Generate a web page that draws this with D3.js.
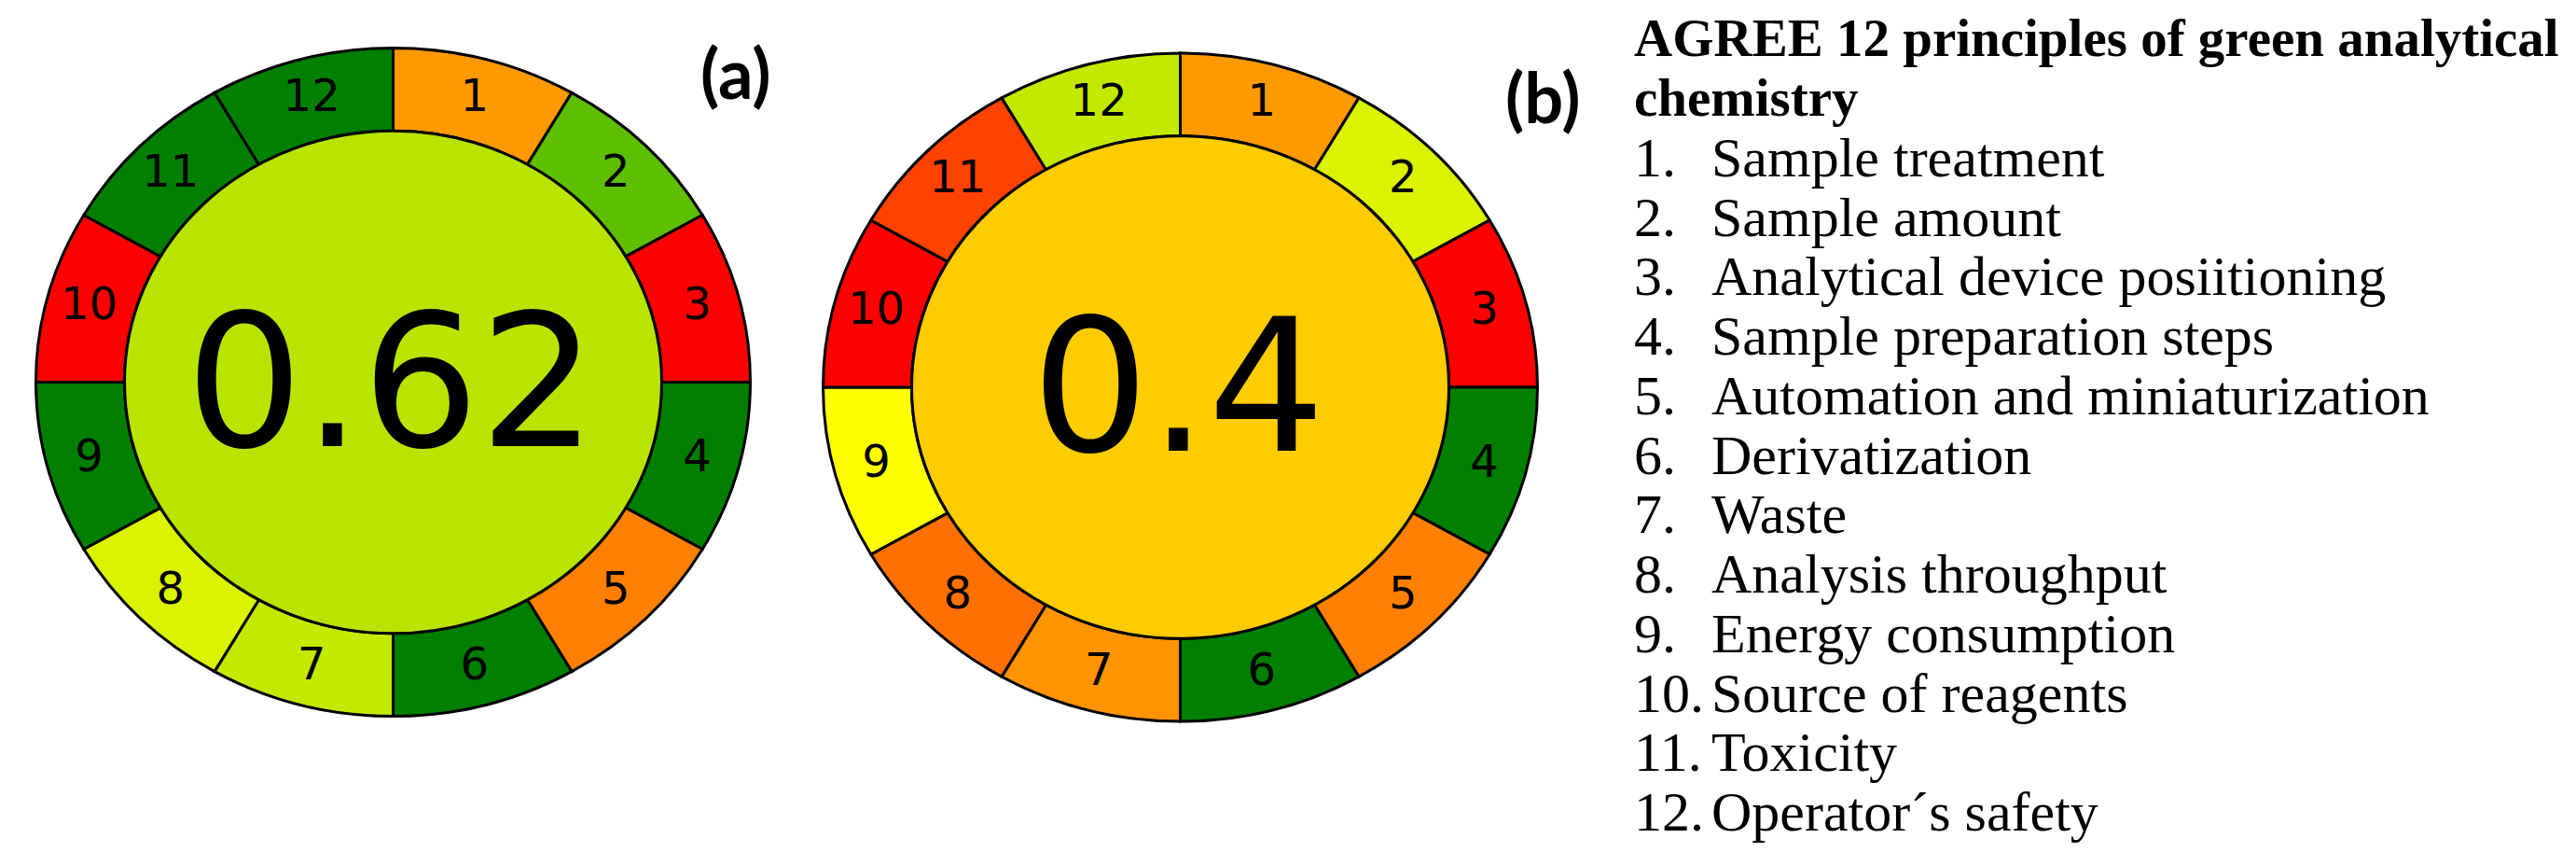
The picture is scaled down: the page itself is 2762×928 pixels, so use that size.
<!DOCTYPE html>
<html>
    <head>
        <meta charset="utf-8">
        <title>AGREE pictograms</title>
        <script src="https://d3js.org/d3.v7.min.js"></script>
        <style>
            body { margin: 0; background: #fff; }
        </style>
    </head>
    <body>
        <div id="container"></div>

        <script>
            // principle names (legend)
            const principles = [
                'Sample treatment',
                'Sample amount',
                'Analytical device posiitioning',
                'Sample preparation steps',
                'Automation and miniaturization',
                'Derivatization',
                'Waste',
                'Analysis throughput',
                'Energy consumption',
                'Source of reagents',
                'Toxicity',
                'Operator\u00b4s safety'
            ]
            const titleLines = ['AGREE 12 principles of green analytical', 'chemistry']

            // scores per principle
            const scoresA = [0.30, 0.78, 0, 1, 0.25, 1, 0.60, 0.56, 1, 0, 1, 1]
            const scoresB = [0.30, 0.56, 0, 1, 0.25, 1, 0.29, 0.22, 0.50, 0, 0.13, 0.60]
            const panelLabels = ['(a)', '(b)']
            const totals = [0.62, 0.4]

            const W = 2762, H = 928
            const container = d3.select('#container')
            const svg = container.append('svg')
                .attr('width', W)
                .attr('height', H)

            // AGREE colour map: red -> yellow -> green
            const color = d3.scaleLinear()
                .domain([0, 0.5, 0.75, 1])
                .range(['#ff0000', '#ffff00', '#6bc700', '#007f00'])
                .clamp(true)

            const rOuter = 383, rInner = 288, ky = 0.935

            const pie = d3.pie().value(1).sort(null)
            const arc = d3.arc().innerRadius(rInner).outerRadius(rOuter)

            const panels = [
                { scores: scoresA, cx: 421.5, cy: 409.5, lx: 751, ly: 106 },
                { scores: scoresB, cx: 1265.5, cy: 415, lx: 1614, ly: 132 }
            ]

            panels.forEach((p, k) => {
                const g = svg.append('g')
                const shape = g.append('g')
                    .attr('transform', `translate(${p.cx},${p.cy}) scale(1,${ky})`)

                const arcs = pie(p.scores.map((s, i) => ({ s, i })))

                shape.selectAll('path')
                    .data(arcs)
                    .join('path')
                    .attr('d', arc)
                    .attr('fill', d => color(d.data.s))
                    .attr('stroke', '#000')
                    .attr('stroke-width', 3)
                    .attr('vector-effect', 'non-scaling-stroke')

                shape.append('circle')
                    .attr('r', rInner)
                    .attr('fill', color(totals[k]))
                    .attr('stroke', '#000')
                    .attr('stroke-width', 3)
                    .attr('vector-effect', 'non-scaling-stroke')

                // segment numbers
                const rMid = (rOuter + rInner) / 2 + 2
                g.selectAll('text.seg')
                    .data(arcs)
                    .join('text')
                    .attr('class', 'seg')
                    .attr('x', d => p.cx + rMid * Math.sin((d.startAngle + d.endAngle) / 2))
                    .attr('y', d => p.cy - rMid * ky * Math.cos((d.startAngle + d.endAngle) / 2) - 3)
                    .attr('text-anchor', 'middle')
                    .attr('dominant-baseline', 'central')
                    .style('font-family', '"DejaVu Sans", sans-serif')
                    .style('font-size', '48px')
                    .attr('fill', '#000')
                    .text(d => d.data.i + 1)

                // overall score
                g.append('text')
                    .attr('x', p.cx - 2)
                    .attr('y', p.cy + 68)
                    .attr('text-anchor', 'middle')
                    .style('font-family', '"DejaVu Sans", sans-serif')
                    .style('font-size', '198px')
                    .attr('fill', '#000')
                    .text(String(totals[k]))

                // panel label
                svg.append('text')
                    .attr('x', p.lx)
                    .attr('y', p.ly)
                    .style('font-family', 'Lato, sans-serif')
                    .style('font-weight', 'bold')
                    .style('font-size', '74px')
                    .attr('fill', '#000')
                    .text(panelLabels[k])
            })

            // legend
            const legend = svg.append('g')
                .style('font-family', '"Liberation Serif", serif')
                .attr('fill', '#000')

            // two-line bold heading
            legend.selectAll('text.title')
                .data(titleLines)
                .join('text')
                .attr('class', 'title')
                .attr('x', 1752)
                .attr('y', (d, i) => 60 + i * 64)
                .style('font-weight', 'bold').style('font-size', '57px')
                .text(d => d)

            const rowY = d3.scaleLinear().domain([0, 11]).range([189, 890])

            const rows = legend.selectAll('g.row')
                .data(principles)
                .join('g')
                .attr('class', 'row')
                .attr('transform', (d, i) => `translate(0,${rowY(i)})`)
                .style('font-size', '60px')

            rows.append('text')
                .attr('x', 1752)
                .text((d, i) => `${i + 1}.`)
            rows.append('text')
                .attr('x', 1835)
                .text(d => d)
        </script>
    </body>
</html>
